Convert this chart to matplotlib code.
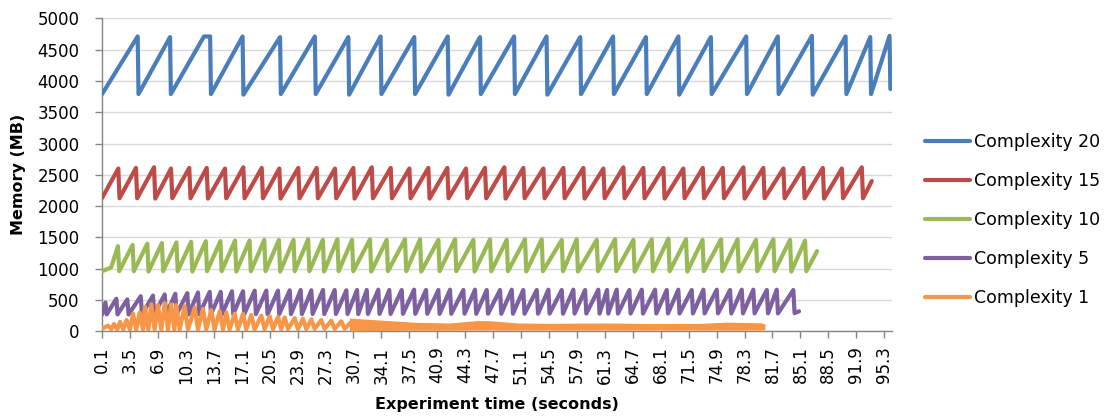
import matplotlib
matplotlib.use("Agg")
import matplotlib.pyplot as plt
from matplotlib.lines import Line2D
from matplotlib.transforms import ScaledTranslation

SAMPLE = 0.1  # seconds between two memory samples

# ---------------- Complexity 20 ----------------
c20_peak_t = [4.43, 8.37, 13.25, 17.2, 21.76, 26.0, 30.07, 34.0, 38.1, 42.17, 46.1, 50.25,
              54.2, 58.3, 62.3, 66.3, 70.25, 74.2, 78.5, 82.35, 86.5, 90.6, 93.6, 95.95]
c20_peak_mb = [4710, 4700, 4710, 4710, 4700, 4710, 4700, 4710, 4700, 4710, 4700, 4710,
               4710, 4700, 4710, 4700, 4710, 4700, 4710, 4710, 4720, 4710, 4700, 4720]
c20_trough_mb = [3790, 3790, 3790, 3780, 3790, 3790, 3780, 3790, 3790, 3780, 3790, 3790,
                 3780, 3790, 3790, 3790, 3780, 3790, 3790, 3790, 3780, 3790, 3790, 3870]
c20_extra_t = [0.1, 12.5, 96.2]
c20_extra_mb = [3790, 4710, 3880]

# ---------------- Complexity 15 ----------------
c15_peak_t = [2.07, 4.22, 6.42, 8.49, 10.71, 12.83, 15.06, 17.29, 19.53, 21.67, 23.98, 26.22,
              28.45, 30.68, 32.92, 35.23, 37.50, 39.81, 42.12, 44.40, 46.71, 49.06, 51.38,
              53.81, 56.25, 58.68, 61.12, 63.55, 65.98, 68.42, 70.85, 73.22, 75.65, 78.16,
              80.59, 83.03, 85.46, 87.83, 90.14, 92.57]
c15_peak_mb = [2600, 2610, 2620, 2600, 2610, 2610, 2600, 2620, 2610, 2600, 2610, 2610,
               2600, 2610, 2620, 2610, 2600, 2610, 2610, 2600, 2610, 2620, 2610,
               2600, 2610, 2610, 2600, 2620, 2610, 2610, 2600, 2610, 2610, 2620,
               2610, 2600, 2610, 2610, 2600, 2620]
c15_trough_mb = [2125, 2125, 2120, 2125, 2125, 2120, 2125, 2125, 2125, 2120, 2125, 2125,
                 2125, 2120, 2125, 2125, 2125, 2120, 2125, 2125, 2125, 2120, 2125,
                 2125, 2125, 2120, 2125, 2125, 2125, 2120, 2125, 2125, 2125, 2120,
                 2125, 2125, 2125, 2120, 2125, 2125]
c15_extra_t = [0.1, 93.79]
c15_extra_mb = [2130, 2400]

# ---------------- Complexity 10 ----------------
c10_peak_t = [2.03, 3.81, 5.60, 7.38, 9.15, 10.93, 12.72, 14.50, 16.28, 18.05, 19.84, 21.62,
              23.40, 25.18, 26.97, 28.74, 30.52, 32.71, 34.74, 36.97, 38.80, 41.03, 43.06,
              45.29, 47.32, 49.35, 51.58, 53.61, 56.05, 57.87, 60.31, 62.54, 64.77, 67.00,
              69.03, 71.18, 73.19, 75.44, 77.45, 79.70, 81.81, 83.84, 85.67]
c10_peak_mb = [1360, 1380, 1400, 1410, 1420, 1430, 1440, 1440, 1450, 1450, 1460, 1460,
               1460, 1470, 1460, 1470, 1460, 1470, 1460, 1470, 1470, 1460, 1470,
               1460, 1470, 1460, 1470, 1470, 1460, 1470, 1460, 1470, 1460, 1470,
               1480, 1470, 1460, 1470, 1470, 1460, 1470, 1460, 1450]
c10_trough_mb = [960, 960, 955, 960, 960, 955, 960, 960, 955, 960, 960, 955,
                 960, 960, 955, 960, 960, 955, 960, 960, 955, 960, 960,
                 955, 960, 960, 955, 960, 960, 955, 960, 960, 955, 960,
                 960, 955, 960, 960, 955, 960, 960, 955, 960]
c10_extra_t = [0.1, 1.2, 87.13]
c10_extra_mb = [960, 1020, 1280]

# ---------------- Complexity 5 ----------------
c5_peak_t = [0.51, 1.83, 3.17, 4.80, 6.29, 7.72, 9.01, 10.47, 11.77, 13.20, 14.54, 15.91,
             17.25, 18.67, 20.09, 21.51, 22.94, 24.27, 25.57, 26.99, 28.41, 29.83, 31.13,
             32.31, 33.72, 35.06, 36.57, 38.07, 39.53, 41.03, 42.45, 44.07, 45.49, 46.92,
             48.54, 49.96, 51.37, 53.01, 54.42, 56.05, 57.46, 58.89, 60.50, 61.56, 62.74,
             64.28, 65.79, 67.41, 68.83, 70.24, 71.87, 73.29, 74.92, 76.54, 77.96, 79.37,
             81.01, 82.22, 84.24]
c5_peak_mb = [460, 520, 510, 560, 570, 590, 600, 610, 620, 630, 630, 640,
              640, 650, 650, 650, 655, 660, 655, 660, 660, 655, 660,
              660, 665, 660, 660, 665, 660, 660, 665, 660, 665, 660,
              660, 665, 660, 660, 665, 660, 665, 660, 665, 660, 665,
              660, 665, 665, 660, 665, 660, 665, 665, 660, 665, 665,
              660, 665, 660]
c5_trough_mb = [270, 270, 268, 270, 270, 268, 270, 270, 270, 272, 270, 272,
                272, 274, 272, 274, 275, 275, 276, 275, 276, 277, 276,
                277, 278, 277, 278, 278, 279, 278, 279, 280, 279, 280,
                280, 281, 280, 281, 282, 281, 282, 283, 282, 283, 283,
                284, 283, 284, 285, 284, 285, 285, 286, 285, 286, 286,
                287, 286, 290]
c5_extra_t = [0.1, 84.94]
c5_extra_mb = [270, 320]

# ---------------- Complexity 1 ----------------
c1_peak_t = [0.82, 1.55, 2.28, 3.07, 3.86, 4.67, 5.32, 6.09, 6.90, 7.72, 8.49, 9.13,
             10.15, 11.37, 12.38, 13.39, 14.41, 15.22, 16.24, 17.25, 18.26, 19.48, 20.50,
             21.51, 22.33, 23.54, 24.55, 25.57, 26.78, 28.00, 29.22, 30.44]
c1_peak_mb = [90, 115, 150, 180, 280, 300, 390, 430, 420, 450, 430, 420,
              400, 380, 360, 340, 320, 300, 280, 280, 260, 250, 240,
              230, 220, 210, 200, 190, 180, 170, 160, 150]
c1_trough_mb = [35, 30, 30, 28, 28, 25, 25, 25, 25, 25, 25, 25,
                25, 28, 28, 28, 30, 30, 30, 30, 32, 32, 32,
                35, 35, 35, 35, 38, 38, 38, 40, 40]
c1_extra_t = [0.1]
c1_extra_mb = [40]
# after ~30 s the samples oscillate too fast to separate: lower / upper envelope
c1_band_t = [30.3, 34.3, 38.4, 42.4, 45.7, 47.3, 50.6, 54.6, 58.6, 61.9, 66.8, 72.9,
             76.2, 80.2, 80.7]
c1_band_hi = [200, 165, 132, 122, 160, 158, 122, 116, 120, 122, 112, 116, 135, 125, 110]
c1_band_lo = [15, 25, 28, 28, 30, 30, 30, 30, 30, 30, 30, 30, 30, 30, 35]

x_tick_labels = ["0.1", "3.5", "6.9", "10.3", "13.7", "17.1", "20.5", "23.9", "27.3",
                 "30.7", "34.1", "37.5", "40.9", "44.3", "47.7", "51.1", "54.5", "57.9",
                 "61.3", "64.7", "68.1", "71.5", "74.9", "78.3", "81.7", "85.1", "88.5",
                 "91.9", "95.3"]
y_ticks = [0, 500, 1000, 1500, 2000, 2500, 3000, 3500, 4000, 4500, 5000]

series_names = ["Complexity 20", "Complexity 15", "Complexity 10", "Complexity 5", "Complexity 1"]
series_colors = ["#4A7EBB", "#BE4B48", "#98B954", "#7D60A0", "#F79646"]


def sawtooth(peak_t, peak_mb, trough_mb, extra_t, extra_mb, fall=SAMPLE):
    """Memory climbs to each peak, then falls back to the next trough."""
    pts = list(zip(extra_t, extra_mb))
    for tp, vp, vt in zip(peak_t, peak_mb, trough_mb):
        pts.append((tp, vp))
        pts.append((tp + fall, vt))
    pts.sort(key=lambda p: p[0])
    return [p[0] for p in pts], [p[1] for p in pts]


curves = [
    sawtooth(c20_peak_t, c20_peak_mb, c20_trough_mb, c20_extra_t, c20_extra_mb),
    sawtooth(c15_peak_t, c15_peak_mb, c15_trough_mb, c15_extra_t, c15_extra_mb, fall=0.15),
    sawtooth(c10_peak_t, c10_peak_mb, c10_trough_mb, c10_extra_t, c10_extra_mb, fall=0.15),
    sawtooth(c5_peak_t, c5_peak_mb, c5_trough_mb, c5_extra_t, c5_extra_mb, fall=0.15),
    sawtooth(c1_peak_t, c1_peak_mb, c1_trough_mb, c1_extra_t, c1_extra_mb, fall=0.4),
]

plt.rcParams["font.family"] = ["DejaVu Sans"]

W, H = 1107, 419
fig = plt.figure(figsize=(W / 100, H / 100), dpi=100)
x0, x1, y0, y1 = 101.7, 892.0, 18.3, 331.3
ax = fig.add_axes([x0 / W, 1 - y1 / H, (x1 - x0) / W, (y1 - y0) / H])

LW = 3.0
for (t, mb), color in zip(curves, series_colors):
    ax.plot(t, mb, color=color, lw=LW, solid_joinstyle="round", solid_capstyle="round",
            zorder=3)
ax.fill_between(c1_band_t, c1_band_lo, c1_band_hi, color=series_colors[4], lw=1.0,
                edgecolor=series_colors[4], zorder=3)

ax.set_xlim(0.05, 96.25)
ax.set_ylim(0, 5000)
ax.set_yticks(y_ticks)
ax.set_yticklabels([str(v) for v in y_ticks])
x_ticks = [float(s) for s in x_tick_labels]
ax.set_xticks(x_ticks)
ax.set_xticklabels(x_tick_labels, rotation=90, va="top", ha="center")
shift = ScaledTranslation(4 / 100, 0, fig.dpi_scale_trans)
for lbl in ax.get_xticklabels():
    lbl.set_transform(lbl.get_transform() + shift)

ax.grid(axis="y", color="#D9D9D9", lw=1.0, zorder=0)
ax.set_axisbelow(True)
for side in ("top", "right"):
    ax.spines[side].set_visible(False)
for side in ("left", "bottom"):
    ax.spines[side].set_color("#868686")
    ax.spines[side].set_linewidth(1.0)
ax.tick_params(axis="both", colors="#868686", length=5, width=1.0, labelcolor="black",
               labelsize=12)
ax.tick_params(axis="x", pad=6)
ax.tick_params(axis="y", pad=11)

ax.set_ylabel("Memory (MB)", fontsize=11.5, fontweight="bold")
ax.yaxis.set_label_coords((26 - x0) / (x1 - x0), 0.5)
ax.set_xlabel("Experiment time (seconds)", fontsize=11.5, fontweight="bold")
ax.xaxis.set_label_coords(0.5, (y1 - 397) / (y1 - y0))

handles = [Line2D([], [], color=c, lw=LW, solid_capstyle="round") for c in series_colors]
fig.legend(handles, series_names, loc="center left",
           bbox_to_anchor=(925 / W, 1 - 220 / H), frameon=False,
           fontsize=12.5, handlelength=2.6, handletextpad=0.2, labelspacing=1.22,
           borderpad=0, borderaxespad=0)

fig.savefig("out.png", dpi=100)
